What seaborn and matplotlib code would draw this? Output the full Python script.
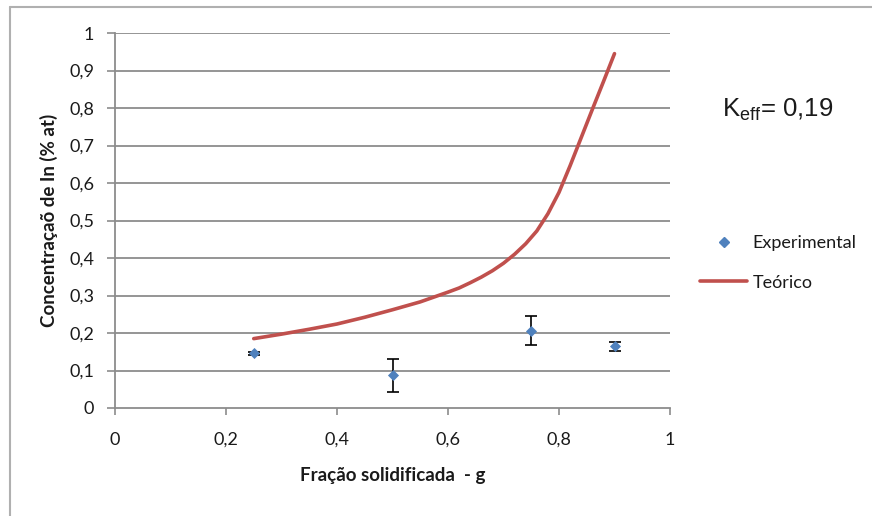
import matplotlib
matplotlib.use("Agg")
import matplotlib.pyplot as plt
from matplotlib.lines import Line2D
import seaborn as sns
import pandas as pd

# Experimental measurements (solidified fraction vs. In concentration)
g_exp = [0.25, 0.50, 0.75, 0.90]
c_exp = [0.146, 0.087, 0.206, 0.165]
c_err = [0.004, 0.044, 0.039, 0.012]

# Theoretical (Scheil) curve, k_eff = 0.19
g_theo = [0.25, 0.30, 0.35, 0.40, 0.45, 0.50, 0.55, 0.60, 0.62, 0.64,
          0.66, 0.68, 0.70, 0.72, 0.74, 0.76, 0.78, 0.80, 0.82, 0.84,
          0.86, 0.88, 0.90]
c_theo = [0.185, 0.197, 0.210, 0.224, 0.242, 0.262, 0.283, 0.309, 0.320, 0.334,
          0.349, 0.366, 0.386, 0.410, 0.438, 0.472, 0.518, 0.575, 0.646, 0.721,
          0.796, 0.870, 0.945]

x_ticks = [0, 0.2, 0.4, 0.6, 0.8, 1]
y_ticks = [0, 0.1, 0.2, 0.3, 0.4, 0.5, 0.6, 0.7, 0.8, 0.9, 1]

BLUE = "#4F81BD"
RED = "#C0504D"
GRID = "#8C8C8C"
TEXT = "#1a1a1a"

sns.set_style("white")
plt.rcParams["font.family"] = ["Lato", "DejaVu Sans"]

W, H = 872, 516
fig = plt.figure(figsize=(W / 100, H / 100), dpi=100)
ax = fig.add_axes([115 / W, 1 - 408 / H, (670 - 115) / W, (408 - 33) / H])

df_theo = pd.DataFrame({"g": g_theo, "c": c_theo})
df_exp = pd.DataFrame({"g": g_exp, "c": c_exp})

sns.lineplot(data=df_theo, x="g", y="c", ax=ax, color=RED, linewidth=2.6,
             zorder=3)
ax.errorbar(g_exp, c_exp, yerr=c_err, fmt="none", ecolor="black",
            elinewidth=1.2, capsize=4, capthick=1.2, zorder=4)
sns.scatterplot(data=df_exp, x="g", y="c", ax=ax, marker="D", s=32,
                color=BLUE, edgecolor=BLUE, linewidth=0, zorder=5)

ax.set_xlim(0, 1)
ax.set_ylim(0, 1)
ax.set_xticks(x_ticks)
ax.set_yticks(y_ticks)
ax.set_xticklabels([f"{v:g}".replace(".", ",") for v in x_ticks])
ax.set_yticklabels([f"{v:g}".replace(".", ",") for v in y_ticks])

for y in y_ticks[1:]:
    ax.axhline(y, color=GRID, linewidth=1.3, zorder=1)

for side in ("top", "right"):
    ax.spines[side].set_visible(False)
for side in ("left", "bottom"):
    ax.spines[side].set_color(GRID)
    ax.spines[side].set_linewidth(1.3)

ax.tick_params(axis="y", direction="out", length=6, width=1.2, color=GRID,
               labelsize=13, labelcolor=TEXT, pad=9, left=True)
ax.tick_params(axis="x", direction="out", length=5, width=1.2, color=GRID,
               labelsize=13, labelcolor=TEXT, pad=12, bottom=True)

ax.set_xlabel("Fração solidificada  - g", fontsize=13.5, fontweight="bold",
              labelpad=14, color=TEXT)
ax.set_ylabel("Concentraçaõ de In (% at)", fontsize=13.5, fontweight="bold",
              labelpad=8, color=TEXT)

# Legend on the right
handles = [
    Line2D([], [], marker="D", linestyle="none", color=BLUE, markersize=5),
    Line2D([], [], color=RED, linewidth=2.6),
]
fig.legend(handles, ["Experimental", "Teórico"], loc="upper left",
           bbox_to_anchor=(684 / W, 1 - 219 / H), frameon=False,
           fontsize=13, handlelength=2.6, handletextpad=0.3,
           labelspacing=1.3, labelcolor=TEXT)

# Effective distribution coefficient annotation
fig.text(722 / W, 1 - 110 / H, r"K$_{\mathregular{eff}}$= 0,19",
         fontsize=18.5, family="Liberation Sans", va="center", ha="left",
         color=TEXT)

# Chart area border (top and left edges)
fig.add_artist(Line2D([10 / W, 1], [1 - 7 / H, 1 - 7 / H],
                      transform=fig.transFigure, color="#B0B0B0", lw=1.5))
fig.add_artist(Line2D([10 / W, 10 / W], [0, 1 - 7 / H],
                      transform=fig.transFigure, color="#B0B0B0", lw=1.5))

fig.savefig("out.png", dpi=100, facecolor="white")
